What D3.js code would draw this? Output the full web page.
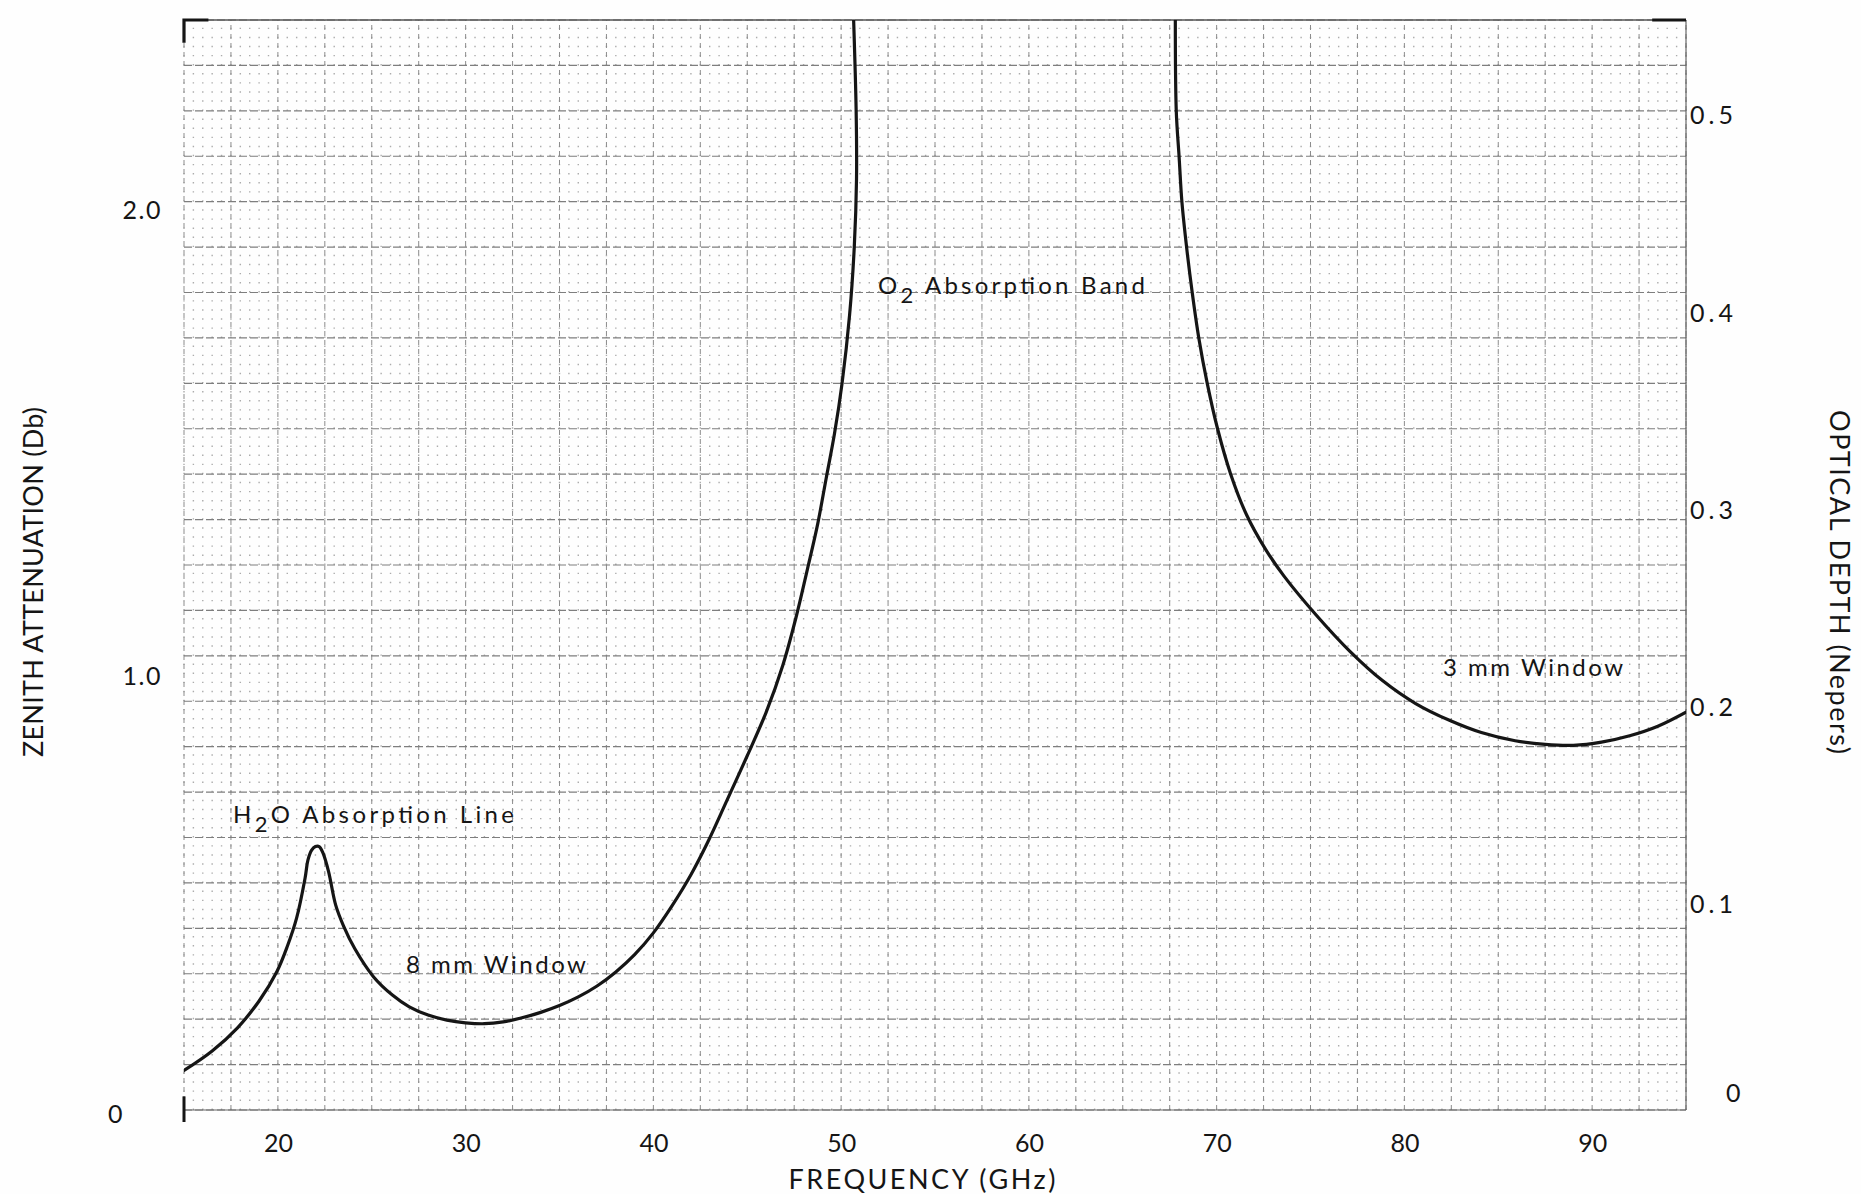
<!DOCTYPE html>
<html><head><meta charset="utf-8">
<script src="https://cdn.jsdelivr.net/npm/d3@7"></script>
<style>
html,body{margin:0;padding:0;background:#ffffff;}
svg{display:block;}
</style></head><body>
<svg id="chart" width="1861" height="1194"></svg>
<script>
// ---------------- data ----------------
const xTicks = [20, 30, 40, 50, 60, 70, 80, 90];
const yTicksDb = [0, 1, 2];
const yTicksNp = [0, 0.1, 0.2, 0.3, 0.4, 0.5];
const xDomain = [15, 95];      // GHz
const yDomain = [0, 2.4];      // dB

// H2O line + 8 mm window + low side of O2 band
const lowFreq = [15.0, 16.5, 17.85, 19.0, 19.95, 20.5, 21.0, 21.45, 21.6, 21.8, 22.0, 22.2, 22.4, 22.7, 23.08, 23.5, 24.1, 25.1, 26.1, 27.0, 28.0, 29.0, 30.0, 31.0, 32.0, 33.0, 34.0, 35.0, 36.0, 37.0, 38.0, 39.0, 40.0, 41.0, 42.0, 42.9, 43.9, 45.0, 46.0, 46.9, 47.6, 48.2, 48.75, 49.2, 49.65, 50.05, 50.45, 50.7, 50.82, 50.8, 50.65];
const lowAtt  = [0.087, 0.13, 0.181, 0.24, 0.305, 0.36, 0.423, 0.511, 0.55, 0.572, 0.58, 0.58, 0.566, 0.525, 0.451, 0.405, 0.355, 0.293, 0.253, 0.227, 0.209, 0.198, 0.192, 0.190, 0.194, 0.203, 0.215, 0.230, 0.249, 0.273, 0.304, 0.342, 0.390, 0.450, 0.518, 0.590, 0.680, 0.780, 0.875, 0.980, 1.085, 1.190, 1.290, 1.390, 1.490, 1.600, 1.750, 1.900, 2.050, 2.200, 2.420];
// high side of O2 band + 3 mm window
const highFreq = [67.8, 67.85, 68.0, 68.15, 68.4, 68.7, 69.05, 69.5, 70.05, 70.75, 71.6, 72.6, 73.6, 75.3, 77.1, 78.85, 80.6, 82.4, 84.1, 85.9, 87.5, 89.0, 90.5, 92.0, 93.5, 95.0];
const highAtt  = [2.42, 2.20, 2.10, 2.00, 1.90, 1.80, 1.70, 1.60, 1.50, 1.40, 1.31, 1.235, 1.175, 1.09, 1.01, 0.945, 0.895, 0.858, 0.831, 0.813, 0.805, 0.803, 0.81, 0.824, 0.845, 0.876];

const xTitle = "FREQUENCY (GHz)";
const yTitleLeft = "ZENITH ATTENUATION (Db)";
const yTitleRight = "OPTICAL DEPTH (Nepers)";

// ---------------- scales ----------------
const NP_PER_DB = Math.LN10 / 10;   // optical depth (nepers) per dB
const x = d3.scaleLinear().domain(xDomain).range([184, 1686]);
const y = d3.scaleLinear().domain(yDomain).range([1110, 20]);
const yN = d3.scaleLinear().domain(yDomain.map(d => d * NP_PER_DB)).range([1110, 20]);

const FONT = "Lato, 'Noto Sans', sans-serif";
const INK = "#151515";
const svg = d3.select("#chart");
svg.append("rect").attr("width", 1861).attr("height", 1194).attr("fill", "#fefefe");

// ---------------- graph paper ----------------
const grid = svg.append("g");
const dotStep = y(0) - y(0.02);
grid.selectAll("line.fine").data(d3.range(15, 95.001, 0.5)).join("line")
  .attr("x1", d => x(d)).attr("x2", d => x(d))
  .attr("y1", y(0)).attr("y2", y(2.4))
  .attr("stroke", "#acacac").attr("stroke-width", 1.4)
  .attr("stroke-dasharray", `1.4,${dotStep - 1.4}`);

grid.selectAll("line.vmaj").data(d3.range(15, 95.001, 2.5)).join("line")
  .attr("x1", d => x(d)).attr("x2", d => x(d))
  .attr("y1", y(0)).attr("y2", y(2.4))
  .attr("stroke", "#8c8c8c").attr("stroke-width", 1)
  .attr("stroke-dasharray", "5,4");

grid.selectAll("line.hmaj").data(d3.range(0, 2.4001, 0.1)).join("line")
  .attr("x1", x(15)).attr("x2", x(95))
  .attr("y1", d => y(d)).attr("y2", d => y(d))
  .attr("stroke", "#7e7e7e").attr("stroke-width", 1.1)
  .attr("stroke-dasharray", "8,3");

// frame accents
const frame = svg.append("g").attr("stroke", INK).attr("fill", "none");
frame.append("line").attr("x1", x(15)).attr("x2", x(95)).attr("y1", y(2.4)).attr("y2", y(2.4)).attr("stroke-width", 1.3).attr("stroke", "#555");
frame.append("line").attr("x1", x(95)).attr("x2", x(95)).attr("y1", y(0)).attr("y2", y(2.4)).attr("stroke-width", 1.2).attr("stroke", "#666");
frame.append("line").attr("x1", x(15)).attr("x2", x(95)).attr("y1", y(0)).attr("y2", y(0)).attr("stroke-width", 1.2).attr("stroke", "#666");
frame.append("path").attr("stroke-width", 3.2)
  .attr("d", `M${x(15)},${y(2.35)}V${y(2.4)}H${x(16.3)}`);
frame.append("line").attr("stroke-width", 3.2)
  .attr("x1", x(93.2)).attr("x2", x(95)).attr("y1", y(2.4)).attr("y2", y(2.4));
frame.append("line").attr("stroke-width", 3)
  .attr("x1", x(15)).attr("x2", x(15)).attr("y1", y(0.03)).attr("y2", y(0) + 12);

// ---------------- curve ----------------
svg.append("clipPath").attr("id", "plotclip").append("rect")
  .attr("x", x(15)).attr("y", y(2.4)).attr("width", x(95) - x(15)).attr("height", y(0) - y(2.4));
const line = d3.line().x(d => x(d[0])).y(d => y(d[1])).curve(d3.curveCatmullRom.alpha(0.5));
const segs = [d3.zip(lowFreq, lowAtt), d3.zip(highFreq, highAtt)];
svg.append("g").attr("clip-path", "url(#plotclip)")
  .selectAll("path").data(segs).join("path")
  .attr("d", line).attr("fill", "none").attr("stroke", INK)
  .attr("stroke-width", 3.2).attr("stroke-linejoin", "round").attr("stroke-linecap", "round");

// ---------------- axes ----------------
const gx = svg.append("g").attr("transform", `translate(0,${y(0)})`)
  .call(d3.axisBottom(x).tickValues(xTicks).tickSize(0).tickFormat(d3.format("d")));
gx.select(".domain").remove();
gx.selectAll("text").attr("y", 33).attr("dy", "0.36em")
  .attr("font-family", FONT).attr("font-size", 25).attr("fill", INK);

const leftShift = {0: 3, 1: 20, 2: 8};
const gl = svg.append("g").attr("transform", `translate(${x(15)},0)`)
  .call(d3.axisLeft(y).tickValues(yTicksDb).tickSize(0)
    .tickFormat(d => d === 0 ? "0" : d3.format(".1f")(d)));
gl.select(".domain").remove();
gl.selectAll("text")
  .attr("x", d => d === 0 ? -60 : -22).attr("dy", "0.36em")
  .attr("transform", d => `translate(0,${leftShift[d]})`)
  .attr("font-family", FONT).attr("font-size", 25).attr("fill", INK)
  .attr("letter-spacing", 1.5);

const gr = svg.append("g").attr("transform", `translate(${x(95)},0)`)
  .call(d3.axisRight(yN).tickValues(yTicksNp).tickSize(0)
    .tickFormat(d => d === 0 ? "0" : d3.format(".1f")(d)));
gr.select(".domain").remove();
gr.selectAll("text")
  .attr("x", d => d === 0 ? 40 : 4).attr("dy", "0.36em")
  .attr("transform", d => d === 0 ? "translate(0,-18)" : "translate(0,-9)")
  .attr("font-family", FONT).attr("font-size", 25).attr("fill", INK)
  .attr("letter-spacing", 4);

// ---------------- titles ----------------
svg.append("text").text(xTitle)
  .attr("x", 922).attr("y", 1189).attr("text-anchor", "middle")
  .attr("font-family", FONT).attr("font-size", 27).attr("fill", INK)
  .attr("textLength", 267).attr("lengthAdjust", "spacing");

svg.append("text").text(yTitleLeft)
  .attr("transform", "translate(43,582) rotate(-90)").attr("text-anchor", "middle")
  .attr("font-family", FONT).attr("font-size", 27).attr("fill", INK)
  .attr("textLength", 350).attr("lengthAdjust", "spacing");

svg.append("text").text(yTitleRight)
  .attr("transform", "translate(1830,582) rotate(90)").attr("text-anchor", "middle")
  .attr("font-family", FONT).attr("font-size", 27).attr("fill", INK)
  .attr("textLength", 344).attr("lengthAdjust", "spacing");

// ---------------- annotations ----------------
const notes = [
  {parts: [["H", 0], ["2", 1], ["O Absorption Line", 0]], gx: 17.61, db: 0.632, w: 281},
  {parts: [["8 mm Window", 0]], gx: 26.82, db: 0.301, w: 180},
  {parts: [["O", 0], ["2", 1], [" Absorption Band", 0]], gx: 51.96, db: 1.796, w: 267},
  {parts: [["3 mm Window", 0]], gx: 82.06, db: 0.955, w: 180}
];
const ann = svg.append("g").attr("font-family", FONT).attr("fill", INK);
notes.forEach(n => {
  const t = ann.append("text").attr("x", x(n.gx)).attr("y", y(n.db))
    .attr("font-size", 24).attr("textLength", n.w).attr("lengthAdjust", "spacing");
  let prevSub = 0;
  n.parts.forEach(([s, sub]) => {
    const dy = sub ? 9 : (prevSub ? -9 : 0);
    t.append("tspan").text(s).attr("dy", dy).attr("font-size", sub ? 22 : 24);
    prevSub = sub;
  });
});
</script>
</body></html>
